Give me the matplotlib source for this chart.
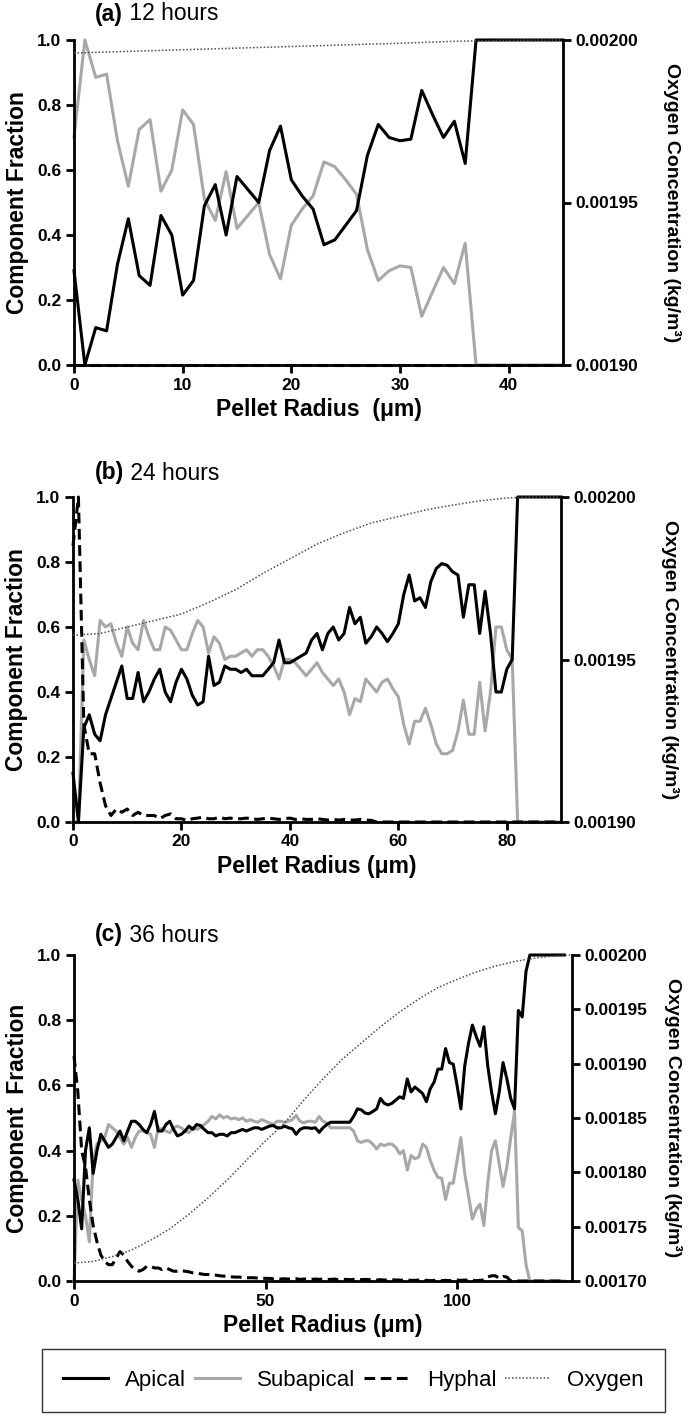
import matplotlib.pyplot as plt
from matplotlib.lines import Line2D
from matplotlib.ticker import FormatStrFormatter

plt.rcParams['font.family'] = ['Liberation Sans', 'DejaVu Sans']

# ---------------- (a) 12 hours ----------------
r_a = [0, 1, 2, 3, 4, 5, 6, 7, 8, 9, 10, 11, 12, 13, 14, 15, 16, 17, 18, 19, 20, 21, 22,
       23, 24, 25, 26, 27, 28, 29, 30, 31, 32, 33, 34, 35, 36, 37, 38, 39, 40, 41, 42, 43, 44, 45]
apical_a = [0.29, 0.00, 0.115, 0.105, 0.31, 0.45, 0.275, 0.245, 0.46, 0.40, 0.215, 0.26, 0.49,
            0.555, 0.40, 0.58, 0.54, 0.50, 0.66, 0.735, 0.57, 0.52, 0.48, 0.37, 0.385, 0.43,
            0.475, 0.645, 0.74, 0.70, 0.69, 0.695, 0.845, 0.77, 0.70, 0.75, 0.62,
            1.0, 1.0, 1.0, 1.0, 1.0, 1.0, 1.0, 1.0, 1.0]
subapical_a = [0.70, 1.00, 0.885, 0.895, 0.69, 0.55, 0.725, 0.755, 0.535, 0.60, 0.785, 0.74,
               0.51, 0.445, 0.595, 0.42, 0.46, 0.50, 0.34, 0.265, 0.43, 0.48, 0.52, 0.625,
               0.61, 0.57, 0.525, 0.355, 0.26, 0.29, 0.305, 0.30, 0.15, 0.225, 0.30, 0.25, 0.375,
               0.0, 0.0, 0.0, 0.0, 0.0, 0.0, 0.0, 0.0, 0.0]
hyphal_a = [0.0, 0.0, 0.0, 0.0, 0.0, 0.0, 0.0, 0.0, 0.0, 0.0, 0.0, 0.0, 0.0, 0.0, 0.0, 0.0,
            0.0, 0.0, 0.0, 0.0, 0.0, 0.0, 0.0, 0.0, 0.0, 0.0, 0.0, 0.0, 0.0, 0.0, 0.0, 0.0,
            0.0, 0.0, 0.0, 0.0, 0.0, 0.0, 0.0, 0.0, 0.0, 0.0, 0.0, 0.0, 0.0, 0.0]
r_ox_a = [0, 5, 10, 15, 20, 25, 30, 35, 40, 45]
oxygen_a = [0.0019960, 0.0019965, 0.0019970, 0.0019975, 0.0019980, 0.0019985,
            0.0019990, 0.0019996, 0.0019999, 0.0020000]

# ---------------- (b) 24 hours ----------------
r_b = [0, 1, 2, 3, 4, 5, 6, 7, 8, 9, 10, 11, 12, 13, 14, 15, 16, 17, 18, 19, 20, 21, 22, 23,
       24, 25, 26, 27, 28, 29, 30, 31, 32, 33, 34, 35, 36, 37, 38, 39, 40, 41, 42, 43, 44, 45,
       46, 47, 48, 49, 50, 51, 52, 53, 54, 55, 56, 57, 58, 59, 60, 61, 62, 63, 64, 65, 66, 67,
       68, 69, 70, 71, 72, 73, 74, 75, 76, 77, 78, 79, 80, 81, 82, 83, 84, 85, 86, 87, 88, 89, 90]
apical_b = [0.15, 0.0, 0.29, 0.33, 0.27, 0.25, 0.33, 0.38, 0.43, 0.48, 0.38, 0.38, 0.46, 0.37,
            0.40, 0.44, 0.47, 0.40, 0.37, 0.43, 0.47, 0.44, 0.39, 0.36, 0.37, 0.51, 0.42, 0.43,
            0.48, 0.47, 0.47, 0.46, 0.47, 0.45, 0.45, 0.45, 0.47, 0.49, 0.56, 0.49, 0.49, 0.50,
            0.51, 0.52, 0.56, 0.58, 0.53, 0.58, 0.60, 0.56, 0.58, 0.66, 0.61, 0.63, 0.55, 0.57,
            0.60, 0.58, 0.555, 0.58, 0.61, 0.70, 0.76, 0.68, 0.69, 0.66, 0.74, 0.78, 0.795, 0.79,
            0.77, 0.76, 0.63, 0.73, 0.73, 0.58, 0.71, 0.58, 0.40, 0.40, 0.47, 0.50,
            1.0, 1.0, 1.0, 1.0, 1.0, 1.0, 1.0, 1.0, 1.0]
subapical_b = [0.0, 0.0, 0.56, 0.50, 0.45, 0.62, 0.60, 0.61, 0.55, 0.51, 0.60, 0.55, 0.53, 0.62,
               0.57, 0.53, 0.53, 0.60, 0.59, 0.56, 0.53, 0.53, 0.58, 0.62, 0.60, 0.52, 0.57, 0.55,
               0.50, 0.51, 0.51, 0.52, 0.53, 0.51, 0.53, 0.53, 0.51, 0.48, 0.44, 0.50, 0.50, 0.49,
               0.47, 0.45, 0.47, 0.49, 0.46, 0.44, 0.42, 0.44, 0.40, 0.33, 0.38, 0.37, 0.44, 0.42,
               0.40, 0.43, 0.44, 0.41, 0.385, 0.30, 0.24, 0.31, 0.31, 0.35, 0.30, 0.24, 0.21, 0.21,
               0.22, 0.28, 0.375, 0.27, 0.27, 0.43, 0.28, 0.40, 0.60, 0.60, 0.53, 0.50,
               0.0, 0.0, 0.0, 0.0, 0.0, 0.0, 0.0, 0.0, 0.0]
hyphal_b = [0.85, 1.0, 0.30, 0.21, 0.21, 0.12, 0.05, 0.02, 0.04, 0.03, 0.04, 0.02, 0.03, 0.02,
            0.02, 0.02, 0.01, 0.02, 0.025, 0.01, 0.01, 0.005, 0.01, 0.012, 0.015, 0.01, 0.01,
            0.015, 0.01, 0.012, 0.01, 0.01, 0.012, 0.01, 0.008, 0.01, 0.012, 0.01, 0.008, 0.01,
            0.012, 0.008, 0.01, 0.008, 0.008, 0.01, 0.008, 0.006, 0.008, 0.006, 0.008, 0.006,
            0.006, 0.008, 0.006, 0.005, 0.0, 0.0, 0.0, 0.0, 0.0, 0.0, 0.0, 0.0, 0.0, 0.0, 0.0,
            0.0, 0.0, 0.0, 0.0, 0.0, 0.0, 0.0, 0.0, 0.0, 0.0, 0.0, 0.0, 0.0, 0.0, 0.0, 0.0, 0.0,
            0.0, 0.0, 0.0, 0.0, 0.0, 0.0, 0.0]
r_ox_b = [0, 5, 10, 15, 20, 25, 30, 35, 40, 45, 50, 55, 60, 65, 70, 75, 80, 85, 90]
oxygen_b = [0.0019575, 0.0019580, 0.0019600, 0.0019620, 0.0019640, 0.0019675, 0.0019715,
            0.0019765, 0.0019810, 0.0019855, 0.0019890, 0.0019920, 0.0019940, 0.0019960,
            0.0019975, 0.0019988, 0.0019997, 0.0020000, 0.0020000]

# ---------------- (c) 36 hours ----------------
r_c = [0, 1, 2, 3, 4, 5, 6, 7, 8, 9, 10, 11, 12, 13, 14, 15, 16, 17, 18, 19, 20, 21, 22, 23,
       24, 25, 26, 27, 28, 29, 30, 31, 32, 33, 34, 35, 36, 37, 38, 39, 40, 41, 42, 43, 44, 45,
       46, 47, 48, 49, 50, 51, 52, 53, 54, 55, 56, 57, 58, 59, 60, 61, 62, 63, 64, 65, 66, 67,
       68, 69, 70, 71, 72, 73, 74, 75, 76, 77, 78, 79, 80, 81, 82, 83, 84, 85, 86, 87, 88, 89,
       90, 91, 92, 93, 94, 95, 96, 97, 98, 99, 100, 101, 102, 103, 104, 105, 106, 107, 108,
       109, 110, 111, 112, 113, 114, 115, 116, 117, 118, 119, 120, 121, 122, 123, 124, 125,
       126, 127, 128]
apical_c = [0.31, 0.25, 0.16, 0.40, 0.47, 0.33, 0.40, 0.45, 0.43, 0.41, 0.42, 0.44, 0.46, 0.43,
            0.46, 0.49, 0.49, 0.48, 0.465, 0.455, 0.48, 0.52, 0.46, 0.46, 0.48, 0.49, 0.465,
            0.445, 0.45, 0.46, 0.475, 0.465, 0.48, 0.477, 0.465, 0.455, 0.455, 0.445, 0.45,
            0.45, 0.445, 0.455, 0.455, 0.46, 0.465, 0.46, 0.465, 0.47, 0.47, 0.465, 0.47, 0.475,
            0.477, 0.47, 0.47, 0.475, 0.47, 0.467, 0.45, 0.465, 0.47, 0.47, 0.468, 0.47, 0.456,
            0.47, 0.48, 0.487, 0.487, 0.487, 0.487, 0.487, 0.487, 0.505, 0.528, 0.525, 0.515,
            0.513, 0.52, 0.528, 0.56, 0.545, 0.54, 0.545, 0.555, 0.565, 0.56, 0.62, 0.58, 0.595,
            0.585, 0.575, 0.55, 0.59, 0.61, 0.65, 0.65, 0.713, 0.67, 0.665, 0.60, 0.528, 0.66,
            0.73, 0.785, 0.75, 0.72, 0.78, 0.66, 0.58, 0.513, 0.58, 0.67, 0.62, 0.56, 0.528,
            0.83, 0.81, 0.95, 1.0, 1.0, 1.0, 1.0, 1.0, 1.0, 1.0, 1.0, 1.0, 1.0]
subapical_c = [0.0, 0.31, 0.25, 0.20, 0.12, 0.37, 0.42, 0.43, 0.44, 0.48, 0.47, 0.46, 0.44, 0.42,
               0.44, 0.41, 0.44, 0.46, 0.46, 0.455, 0.45, 0.41, 0.47, 0.465, 0.46, 0.455, 0.47,
               0.475, 0.47, 0.46, 0.455, 0.47, 0.465, 0.47, 0.48, 0.49, 0.505, 0.497, 0.51, 0.50,
               0.505, 0.497, 0.50, 0.495, 0.50, 0.49, 0.495, 0.49, 0.487, 0.495, 0.49, 0.485,
               0.48, 0.49, 0.49, 0.487, 0.49, 0.495, 0.508, 0.49, 0.485, 0.49, 0.49, 0.487,
               0.505, 0.49, 0.485, 0.47, 0.47, 0.47, 0.47, 0.47, 0.47, 0.46, 0.43, 0.425, 0.43,
               0.43, 0.42, 0.405, 0.42, 0.415, 0.42, 0.42, 0.41, 0.39, 0.40, 0.34, 0.385, 0.375,
               0.38, 0.42, 0.41, 0.37, 0.34, 0.318, 0.315, 0.25, 0.30, 0.30, 0.37, 0.44, 0.33,
               0.26, 0.19, 0.22, 0.236, 0.17, 0.30, 0.40, 0.43, 0.36, 0.29, 0.35, 0.44, 0.52,
               0.164, 0.154, 0.05, 0.0, 0.0, 0.0, 0.0, 0.0, 0.0, 0.0, 0.0, 0.0, 0.0]
hyphal_c = [0.69, 0.58, 0.40, 0.35, 0.25, 0.17, 0.12, 0.08, 0.06, 0.05, 0.05, 0.07, 0.09, 0.08,
            0.06, 0.045, 0.035, 0.03, 0.035, 0.045, 0.045, 0.04, 0.04, 0.035, 0.04, 0.035, 0.03,
            0.03, 0.032, 0.03, 0.028, 0.025, 0.025, 0.022, 0.02, 0.02, 0.018, 0.018, 0.016,
            0.015, 0.015, 0.013, 0.012, 0.012, 0.011, 0.01, 0.01, 0.01, 0.009, 0.009, 0.008,
            0.008, 0.007, 0.008, 0.006, 0.007, 0.006, 0.006, 0.007, 0.005, 0.006, 0.006, 0.005,
            0.006, 0.005, 0.006, 0.005, 0.005, 0.006, 0.004, 0.005, 0.005, 0.004, 0.005, 0.004,
            0.004, 0.005, 0.004, 0.004, 0.003, 0.004, 0.003, 0.003, 0.004, 0.003, 0.003, 0.002,
            0.003, 0.002, 0.002, 0.003, 0.002, 0.002, 0.001, 0.002, 0.002, 0.001, 0.002, 0.001,
            0.002, 0.003, 0.002, 0.003, 0.002, 0.002, 0.001, 0.002, 0.003, 0.012, 0.016, 0.016,
            0.008, 0.014, 0.012, 0.0, 0.0, 0.0, 0.0, 0.0, 0.0, 0.0, 0.0, 0.0, 0.0, 0.0, 0.0,
            0.0, 0.0, 0.0]
r_ox_c = [0, 5, 10, 15, 20, 25, 30, 35, 40, 45, 50, 55, 60, 65, 70, 75, 80, 85, 90, 95, 100,
          105, 110, 115, 120, 125, 130]
oxygen_c = [0.0017165, 0.0017180, 0.0017225, 0.0017285, 0.0017375, 0.0017480, 0.0017615,
            0.0017765, 0.0017930, 0.0018110, 0.0018290, 0.0018455, 0.0018665, 0.0018860,
            0.0019040, 0.0019190, 0.0019340, 0.0019475, 0.0019595, 0.0019700, 0.0019775,
            0.0019844, 0.0019898, 0.0019940, 0.0019970, 0.0019991, 0.0020000]

frac_ticks = [0.0, 0.2, 0.4, 0.6, 0.8, 1.0]
o2_ticks_ab = [0.00190, 0.00195, 0.00200]
o2_ticks_c = [0.00170, 0.00175, 0.00180, 0.00185, 0.00190, 0.00195, 0.00200]

W, H = 693.0, 1417.0
fig = plt.figure(figsize=(W / 100, H / 100), dpi=100)

SUB = '#a8a8a8'
OX = '#4d4d4d'


def panel(box, r, ap, sub, hyp, r_ox, ox, xmax, xticks, o2lim, o2ticks,
          tag, hours, xlab, ylab, title_off, o2pad):
    left, right, top, bottom = box
    ax = fig.add_axes([left / W, 1 - bottom / H, (right - left) / W, (bottom - top) / H])
    ax.plot(r, sub, color=SUB, lw=2.2, clip_on=False, zorder=2)
    ax.plot(r, ap, color='black', lw=2.2, clip_on=False, zorder=3)
    ax.plot(r, hyp, color='black', lw=2.2, ls=(0, (3.5, 1.8)), clip_on=False, zorder=4)
    ax.set_xlim(0, xmax)
    ax.set_ylim(0, 1)
    ax.set_xticks(xticks)
    ax.set_yticks(frac_ticks)
    ax.yaxis.set_major_formatter(FormatStrFormatter('%.1f'))

    ax2 = ax.twinx()
    ax2.plot(r_ox, ox, color=OX, lw=1.1, ls=(0, (1, 1.3)), clip_on=False)
    ax2.set_ylim(o2lim)
    ax2.set_yticks(o2ticks)
    ax2.yaxis.set_major_formatter(FormatStrFormatter('%.5f'))

    for a in (ax, ax2):
        a.spines['top'].set_visible(False)
        for s in a.spines.values():
            s.set_linewidth(2)
        a.tick_params(direction='out', length=6, width=2, labelsize=12.5, pad=3)
        for lab in a.get_xticklabels() + a.get_yticklabels():
            lab.set_fontweight('bold')
    ax2.spines['left'].set_visible(False)
    ax2.spines['bottom'].set_visible(False)
    ax.spines['right'].set_visible(False)

    ax.set_xlabel(xlab, fontsize=16.5, fontweight='bold', labelpad=4)
    ax.set_ylabel(ylab, fontsize=16.5, fontweight='bold', labelpad=6)
    ax2.set_ylabel('Oxygen Concentration (kg/m³)', fontsize=14, fontweight='bold',
                   rotation=270, va='bottom', labelpad=o2pad)

    t = fig.text(95 / W, 1 - (top - title_off) / H, tag, fontsize=16.5, fontweight='bold',
                 va='center', ha='left')
    ax.annotate(' ' + hours, xy=(1, 0.5), xycoords=t, va='center', ha='left',
                fontsize=16.5)
    return ax


panel((74, 563, 40, 365), r_a, apical_a, subapical_a, hyphal_a, r_ox_a, oxygen_a,
      45, [0, 10, 20, 30, 40], (0.0019, 0.0020), o2_ticks_ab,
      '(a)', '12 hours', 'Pellet Radius  (\u03bcm)', 'Component Fraction', 26, 18)
panel((73, 561, 497, 822), r_b, apical_b, subapical_b, hyphal_b, r_ox_b, oxygen_b,
      90, [0, 20, 40, 60, 80], (0.0019, 0.0020), o2_ticks_ab,
      '(b)', '24 hours', 'Pellet Radius (\u03bcm)', 'Component Fraction', 24, 18)
panel((74, 572, 955, 1281), r_c, apical_c, subapical_c, hyphal_c, r_ox_c, oxygen_c,
      130, [0, 50, 100], (0.0017, 0.0020), o2_ticks_c,
      '(c)', '36 hours', 'Pellet Radius (\u03bcm)', 'Component  Fraction', 20, 12)

handles = [Line2D([], [], color='black', lw=2.2),
           Line2D([], [], color=SUB, lw=2.2),
           Line2D([], [], color='black', lw=2.2, ls=(0, (3.5, 1.8))),
           Line2D([], [], color=OX, lw=1.1, ls=(0, (1, 1.3)))]
leg = fig.legend(handles, ['Apical', 'Subapical', 'Hyphal', 'Oxygen'],
                 loc='lower left', bbox_to_anchor=(42 / W, 5 / H, 623 / W, 67 / H),
                 mode='expand', ncol=4, fontsize=16, frameon=True, fancybox=False,
                 edgecolor='black', handlelength=2.0, handletextpad=0.8,
                 borderaxespad=0, borderpad=0.95)
leg.get_frame().set_linewidth(1)

fig.savefig('out.png', dpi=100)
